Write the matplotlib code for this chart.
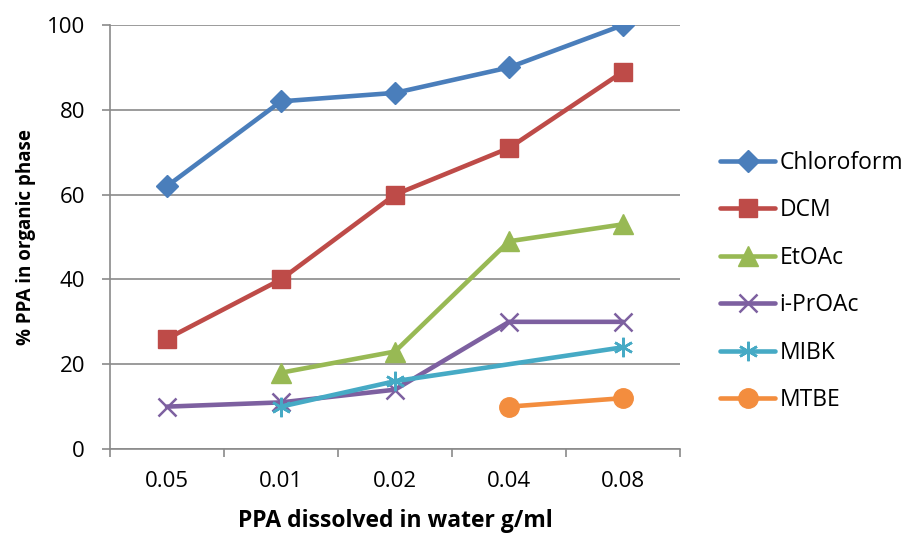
import numpy as np
import matplotlib
matplotlib.use("Agg")
import matplotlib.pyplot as plt

categories = ["0.05", "0.01", "0.02", "0.04", "0.08"]
chloroform = [62, 82, 84, 90, 100]
dcm = [26, 40, 60, 71, 89]
etoac = [np.nan, 18, 23, 49, 53]
iproac = [10, 11, 14, 30, 30]
mibk = [np.nan, 10, 16, np.nan, 24]
mtbe = [np.nan, np.nan, np.nan, 10, 12]

plt.rcParams["font.family"] = ["Open Sans", "DejaVu Sans"]

GRIDC = "#8a8a8a"
series = [
    ("Chloroform", chloroform, "#4A7EBB", "D", 11),
    ("DCM", dcm, "#BE4B48", "s", 13),
    ("EtOAc", etoac, "#98B954", "^", 14),
    ("i-PrOAc", iproac, "#7D60A0", "x", 13),
    ("MIBK", mibk, "#46AAC5", (6, 2, 0), 14),
    ("MTBE", mtbe, "#F38D3E", "o", 14),
]

fig = plt.figure(figsize=(9.05, 5.35), dpi=100)
ax = fig.add_axes([0.1215, 0.1607, 0.63, 0.7925])

x = np.arange(len(categories))
for name, vals, col, mk, ms in series:
    v = np.array(vals, dtype=float)
    ok = ~np.isnan(v)
    # gaps are bridged, like the source chart
    ax.plot(x[ok], v[ok], color=col, lw=3.3, marker=mk, ms=ms,
            mew=1.8 if mk in ("x", (6, 2, 0)) else 1, mec=col, mfc=col,
            label=name, solid_capstyle="round")

ax.set_xlim(-0.5, len(categories) - 0.5)
ax.set_ylim(0, 100)
ax.set_yticks(range(0, 101, 20))
ax.set_xticks(x)
ax.set_xticklabels(categories, fontsize=16)
ax.set_xticks(np.arange(-0.5, len(categories)), minor=True)
ax.tick_params(axis="x", which="major", length=0, pad=16)
ax.tick_params(axis="x", which="minor", length=6, width=1.2, color=GRIDC, direction="out")
ax.tick_params(axis="y", length=6, width=1.2, color=GRIDC, labelsize=16, pad=12)
ax.yaxis.grid(True, color=GRIDC, lw=1.2)
ax.set_axisbelow(True)
for s in ("top", "right"):
    ax.spines[s].set_visible(False)
for s in ("left", "bottom"):
    ax.spines[s].set_color(GRIDC)
    ax.spines[s].set_linewidth(1.2)

ax.set_xlabel("PPA dissolved in water g/ml", fontsize=16.5, fontweight="bold", labelpad=12)
ax.set_ylabel("% PPA in organic phase", fontsize=13.5, fontweight="bold", labelpad=8)

leg = ax.legend(loc="center left", bbox_to_anchor=(1.07, 0.395), frameon=False,
                fontsize=16.5, handlelength=2.4, labelspacing=1.02, handletextpad=0.2,
                borderaxespad=0, borderpad=0)

fig.savefig("out.png", dpi=100)
